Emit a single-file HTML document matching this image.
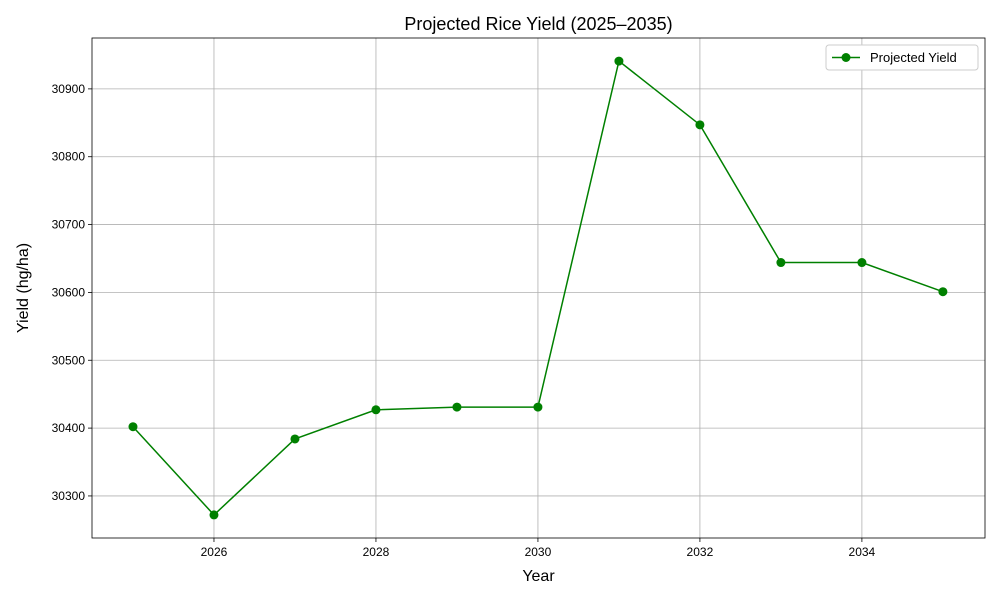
<!DOCTYPE html>
<html><head><meta charset="utf-8"><style>
body{margin:0;background:#fff;font-family:"Liberation Sans","DejaVu Sans",sans-serif}
</style></head><body>
<svg id="chart" width="1000" height="600" xmlns="http://www.w3.org/2000/svg"></svg>
<script>
const years=[2025,2026,2027,2028,2029,2030,2031,2032,2033,2034,2035];
const yields=[30402,30272,30384,30427,30431,30431,30941,30847,30644,30644,30601];
const xTicks=[2026,2028,2030,2032,2034];
const yTicks=[30300,30400,30500,30600,30700,30800,30900];
const L=92,R=985,T=38,B=538;
const x0=2024.494,x1=2035.52,y0=30238,y1=30975;
const sx=v=>L+(v-x0)/(x1-x0)*(R-L);
const sy=v=>B-(v-y0)/(y1-y0)*(B-T);
const svg=document.getElementById('chart');
const NS='http://www.w3.org/2000/svg';
function mk(tag,attrs,parent){const e=document.createElementNS(NS,tag);for(const k in attrs)e.setAttribute(k,attrs[k]);(parent||svg).appendChild(e);return e;}
xTicks.forEach(t=>{const X=sx(t);
const g=mk('line',{x1:X,x2:X,y1:T,y2:B,stroke:'#b0b0b0','stroke-width':0.8});

mk('line',{x1:X,x2:X,y1:B,y2:B+4,stroke:'#000','stroke-width':0.8});
const tx=mk('text',{x:X,y:B+18,'text-anchor':'middle','font-size':12});tx.textContent=t;
});
yTicks.forEach(t=>{const Y=sy(t);
const g=mk('line',{x1:L,x2:R,y1:Y,y2:Y,stroke:'#b0b0b0','stroke-width':0.8});

mk('line',{x1:L-4,x2:L,y1:Y,y2:Y,stroke:'#000','stroke-width':0.8});
const tx=mk('text',{x:L-7,y:Y+4,'text-anchor':'end','font-size':12});tx.textContent=t;
});
const fr=mk('rect',{x:L,y:T,width:R-L,height:B-T,fill:'none',stroke:'#000','stroke-width':0.8});

const pl=mk('polyline',{points:years.map((y,i)=>sx(y)+','+sy(yields[i])).join(' '),fill:'none',stroke:'#008000','stroke-width':1.5});

years.forEach((y,i)=>{const c=mk('circle',{cx:sx(y),cy:sy(yields[i]),r:4.5,fill:'#008000'});
});
const title=mk('text',{x:(L+R)/2,y:30,'text-anchor':'middle','font-size':18});title.textContent='Projected Rice Yield (2025–2035)';

const xt=mk('text',{x:(L+R)/2,y:581,'text-anchor':'middle','font-size':16});xt.textContent='Year';

const yt=mk('text',{x:28,y:(T+B)/2,'text-anchor':'middle','font-size':16,transform:'rotate(-90 28 '+((T+B)/2)+')'});yt.textContent='Yield (hg/ha)';

const lg=mk('g',{});
mk('rect',{x:826,y:45,width:152,height:25,rx:3,fill:'#fff',stroke:'#ccc'},lg);
mk('line',{x1:832,x2:860,y1:57.5,y2:57.5,stroke:'#008000','stroke-width':1.5},lg);
mk('circle',{cx:846,cy:57.5,r:4.5,fill:'#008000'},lg);
const lt=mk('text',{x:870,y:62,'font-size':13},lg);lt.textContent='Projected Yield';

</script>
</body></html>
